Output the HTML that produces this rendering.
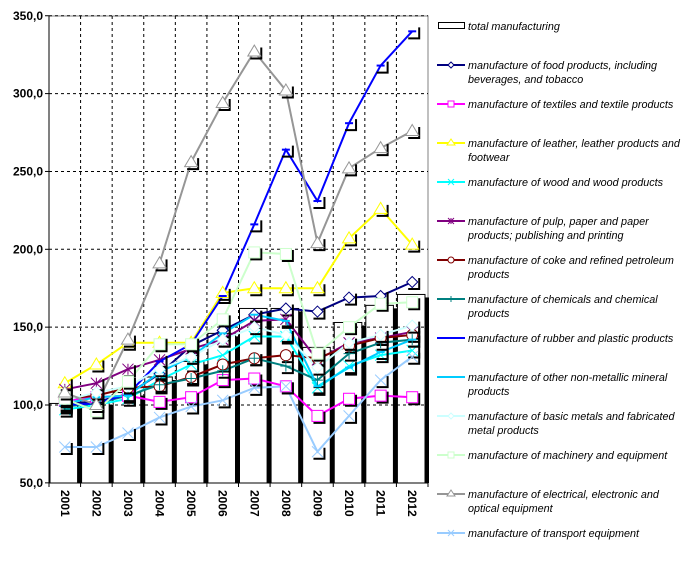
<!DOCTYPE html>
<html><head><meta charset="utf-8"><style>
html,body{margin:0;padding:0;background:#fff;width:693px;height:568px;overflow:hidden}
svg{display:block}
</style></head><body>
<svg id="s" width="693" height="568" xmlns="http://www.w3.org/2000/svg" font-family="Liberation Sans, Arial, sans-serif"></svg>
<script>
const s=document.getElementById('s');
let h='';
const X0=49,X1=428,Y0=16,Y1=483,cw=(X1-X0)/12;
const Y=v=>405-(v-100)*1.557;
const C=i=>X0+cw*(i+0.5);
h+=`<rect x="${X0}" y="${Y0}" width="${X1-X0}" height="${Y1-Y0}" fill="#fff" stroke="#808080"/>`;
const tot=[101,102,108,118,128,146,162,162,137,153,164,171];
tot.forEach((v,i)=>{const l=X0+cw*i+1,r=X0+cw*(i+1)-3,t=Y(v);
h+=`<rect x="${l}" y="${t}" width="${r-l}" height="${Y1-t}" fill="#fff" stroke="#000" stroke-width="1"/>`;
h+=`<rect x="${r}" y="${t+3}" width="4" height="${Y1-t-3}" fill="#000"/>`;});
for(let v=100;v<=350;v+=50)h+=`<line x1="${X0}" x2="${X1}" y1="${Y(v)}" y2="${Y(v)}" stroke="#000" stroke-dasharray="3,3"/>`;
for(let i=1;i<12;i++)h+=`<line x1="${X0+cw*i}" x2="${X0+cw*i}" y1="${Y0}" y2="${Y1}" stroke="#000" stroke-dasharray="3,3"/>`;
h+=`<line x1="${X0}" x2="${X0}" y1="${Y0}" y2="${Y1}" stroke="#000"/><line x1="${X0}" x2="${X1}" y1="${Y1}" y2="${Y1}" stroke="#000"/>`;
for(let i=0;i<=12;i++)h+=`<line x1="${X0+cw*i}" x2="${X0+cw*i}" y1="${Y1}" y2="${Y1+4}" stroke="#000"/>`;
for(let v=50;v<=350;v+=50){h+=`<line x1="${X0-4}" x2="${X0}" y1="${Y(v)}" y2="${Y(v)}" stroke="#000"/><text x="43" y="${Y(v)+4}" font-size="12" font-weight="bold" text-anchor="end">${v},0</text>`;}
for(let i=0;i<12;i++){const x=C(i)-4;h+=`<text transform="translate(${x},490) rotate(90)" font-size="12" font-weight="bold">${2001+i}</text>`;}
const S=[
["#000080","dia",[101,102,107,120,138,148,158,162,160,169,170,179]],
["#ff00ff","sq",[103,105,106,102,105,116,117,112,93,104,106,105]],
["#ffff00","tri",[114,126,140,140,140,172,175,175,175,207,226,203]],
["#00ffff","x",[97,100,104,116,126,132,144,144,111,125,132,135]],
["#800080","star",[110,114,123,129,136,142,154,155,129,140,143,147]],
["#800000","circ",[104,106,111,112,118,126,130,132,130,138,143,145]],
["#008080","plus",[99,101,106,113,117,122,130,125,116,133,140,142]],
["#0000ff","dash",[100,101,107,128,139,170,216,264,231,281,318,340]],
["#00ccff","dash",[101,105,106,121,131,146,158,154,112,124,134,142]],
["#ccffff","dia",[103,108,112,123,131,142,150,145,124,140,145,151]],
["#ccffcc","sq",[104,96,115,139,139,155,198,197,133,150,165,166]],
["#969696","tri",[108,100,142,191,256,294,327,302,204,252,265,276]],
["#99ccff","x",[73,73,82,92,99,103,111,112,70,93,116,131]]];
function mk(t,x,y,c,fill,r){
switch(t){
case"dia":return `<path d="M${x} ${y-r}L${x+r} ${y}L${x} ${y+r}L${x-r} ${y}Z" fill="${fill}" stroke="${c}"/>`;
case"sq":return `<rect x="${x-r}" y="${y-r}" width="${2*r}" height="${2*r}" fill="${fill}" stroke="${c}"/>`;
case"tri":return `<path d="M${x} ${y-r-1}L${x+r+1} ${y+r-1}L${x-r-1} ${y+r-1}Z" fill="${fill}" stroke="${c}"/>`;
case"circ":return `<circle cx="${x}" cy="${y}" r="${r}" fill="${fill}" stroke="${c}"/>`;
case"x":return `<path d="M${x-r} ${y-r}L${x+r} ${y+r}M${x+r} ${y-r}L${x-r} ${y+r}" stroke="${c}"/>`;
case"plus":return `<path d="M${x-r} ${y}H${x+r}M${x} ${y-r}V${y+r}" stroke="${c}"/>`;
case"star":return `<path d="M${x-r} ${y-r}L${x+r} ${y+r}M${x+r} ${y-r}L${x-r} ${y+r}M${x} ${y-r}V${y+r}" stroke="${c}"/>`;
case"dash":return `<path d="M${x-4} ${y}H${x+4}" stroke="${c}" stroke-width="2"/>`;}}
S.forEach(([c,t,d])=>{h+=`<polyline fill="none" stroke="${c}" stroke-width="2" points="${d.map((v,i)=>C(i)+','+Y(v)).join(' ')}"/>`;});
S.forEach(([c,t,d])=>{d.forEach((v,i)=>{const x=C(i),y=Y(v);
h+=`<path d="M${x-4} ${y+7}H${x+7}V${y-4}" fill="none" stroke="#000" stroke-width="2"/>`;
h+=mk(t,x,y,c,"#fff",5.5);});});
const L=[["total manufacturing"],["manufacture of food products, including","beverages, and tobacco"],["manufacture of textiles and textile products"],["manufacture of leather, leather products and","footwear"],["manufacture of wood and wood products"],["manufacture of pulp, paper and paper","products; publishing and printing"],["manufacture of coke and refined petroleum","products"],["manufacture of chemicals and chemical","products"],["manufacture of rubber and plastic products"],["manufacture of other non-metallic mineral","products"],["manufacture of basic metals and fabricated","metal products"],["manufacture of machinery and equipment"],["manufacture of electrical, electronic and","optical equipment"],["manufacture of transport equipment"]];
L.forEach((l,k)=>{const y=26+39*k;
if(k==0)h+=`<rect x="438.5" y="${y-3.5}" width="26" height="6" fill="#fff" stroke="#000"/>`;
else{const [c,t]=S[k-1];h+=`<line x1="437" x2="465" y1="${y}" y2="${y}" stroke="${c}" stroke-width="2"/>`;
if(t!="dash")h+=mk(t,451,y,c,"#fff",3);}
l.forEach((s2,j)=>h+=`<text x="468" y="${y+4+j*14}" font-size="10.8" font-style="italic" textLength="${s2.length>30?0:''}">${s2}</text>`.replace(/ textLength="[^"]*"/,''));});
s.innerHTML=h;
</script>
</body></html>
